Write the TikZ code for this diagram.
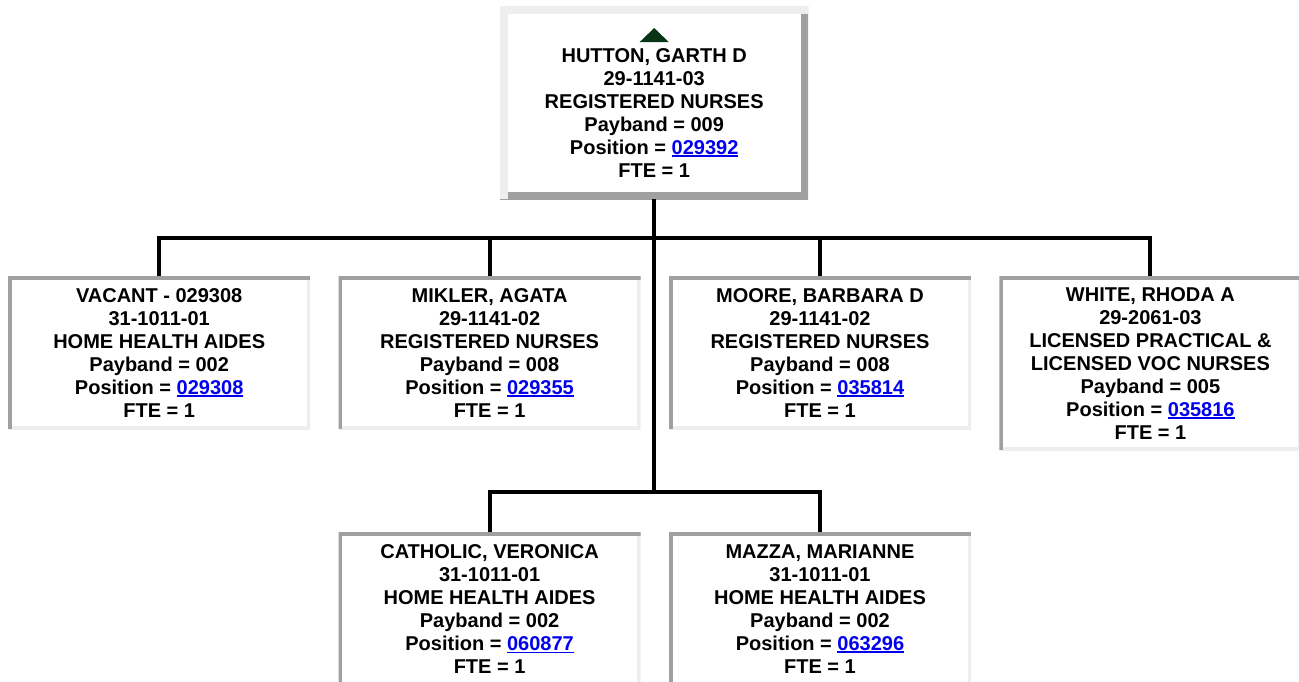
\documentclass[tikz,border=0pt]{standalone}
\usepackage{fontspec}
\setmainfont{Liberation Sans}
\usetikzlibrary{positioning,calc}
\usepackage{xcolor}
\definecolor{edgedark}{RGB}{160,160,160}
\definecolor{edgelite}{RGB}{238,238,238}
\definecolor{linkblue}{RGB}{0,0,238}
\definecolor{uparrow}{RGB}{8,52,22}
\newcommand{\poslink}[1]{{\color{linkblue}\setbox0\hbox{#1}%
  \rlap{\rule[-2.6pt]{\wd0}{1.6pt}}\box0}}
\tikzset{
  orgtext/.style  ={align=center, font=\fontsize{20}{23}\selectfont\bfseries,
                    inner ysep=11pt, fill=white},
  insetbox/.style ={orgtext, minimum width=302pt, minimum height=153pt,
                    path picture={
                      \draw[edgelite, line width=7pt] (path picture bounding box.south west)
                        -| (path picture bounding box.north east);
                      \draw[edgedark, line width=7pt] (path picture bounding box.south west)
                        |- (path picture bounding box.north east);}},
  raisedbox/.style={orgtext, minimum width=308pt, minimum height=193pt,
                    path picture={
                      \draw[edgedark, line width=15pt] (path picture bounding box.south west)
                        -| (path picture bounding box.north east);
                      \draw[edgelite, line width=15pt] (path picture bounding box.south west)
                        |- (path picture bounding box.north east);}},
  conn/.style     ={line width=4pt, draw=black},
}
\begin{document}
\begin{tikzpicture}[x=1pt, y=1pt, node distance=28pt]
\useasboundingbox (0,0) rectangle (1299,-681);
\clip (0,0) rectangle (1299,-681);

%% Supervisor
\node[raisedbox, anchor=north west] (hutton) at (500,-6)
  {\rule{0pt}{11pt}\\HUTTON, GARTH D\\29-1141-03\\REGISTERED NURSES\\Payband = 009\\
   Position = \poslink{029392}\\FTE = 1};
\fill[uparrow] ($(hutton.north)+(-14.5,-36)$) -- ++(29,0) -- ++(-14.5,14) -- cycle;

%% First row
\node[insetbox, anchor=north west] (vacant) at (8,-276)
  {VACANT - 029308\\31-1011-01\\HOME HEALTH AIDES\\Payband = 002\\
   Position = \poslink{029308}\\FTE = 1};
\node[insetbox, right=of vacant.north east, anchor=north west] (mikler)
  {MIKLER, AGATA\\29-1141-02\\REGISTERED NURSES\\Payband = 008\\
   Position = \poslink{029355}\\FTE = 1};
\node[insetbox, right=of mikler.north east, anchor=north west] (moore)
  {MOORE, BARBARA D\\29-1141-02\\REGISTERED NURSES\\Payband = 008\\
   Position = \poslink{035814}\\FTE = 1};
\node[insetbox, right=of moore.north east, anchor=north west] (white)
  {WHITE, RHODA A\\29-2061-03\\LICENSED PRACTICAL \&\\LICENSED VOC NURSES\\
   Payband = 005\\Position = \poslink{035816}\\FTE = 1};

%% Second row
\node[insetbox, below=103pt of mikler] (catholic)
  {CATHOLIC, VERONICA\\31-1011-01\\HOME HEALTH AIDES\\Payband = 002\\
   Position = \poslink{060877}\\FTE = 1};
\node[insetbox, below=103pt of moore] (mazza)
  {MAZZA, MARIANNE\\31-1011-01\\HOME HEALTH AIDES\\Payband = 002\\
   Position = \poslink{063296}\\FTE = 1};

%% Connectors
\coordinate (bus1) at ($(hutton.south)+(0,-39)$);
\coordinate (bus2) at ($(hutton.south)+(0,-293)$);
\draw[conn] (hutton.south) -- (bus2);
\draw[conn] (vacant.north) |- (bus1) -| (white.north);
\draw[conn] (mikler.north) -- (mikler.north |- bus1);
\draw[conn] (moore.north)  -- (moore.north |- bus1);
\draw[conn] (catholic.north) |- (bus2) -| (mazza.north);

\end{tikzpicture}
\end{document}
